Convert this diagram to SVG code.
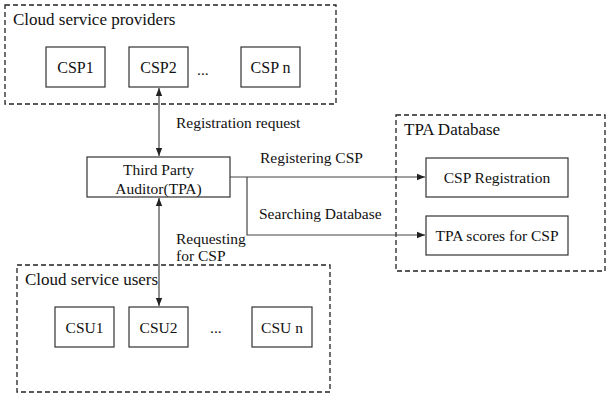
<svg xmlns="http://www.w3.org/2000/svg" width="606" height="394" viewBox="0 0 606 394">
<defs>
<marker id="ah" viewBox="0 0 10 10" refX="10" refY="5" markerWidth="8" markerHeight="8" markerUnits="userSpaceOnUse" orient="auto-start-reverse">
<path d="M0,1 L10,5 L0,9 Z" fill="#222"/>
</marker>
</defs>
<style>
text{font-family:'Liberation Serif','Times New Roman','DejaVu Serif',serif;fill:#111;font-size:15.5px}
.t{font-size:17px}
.n{font-size:16px}
.box{fill:#fff;stroke:#333;stroke-width:1.2}
.grp{fill:none;stroke:#222;stroke-width:1.3;stroke-dasharray:5,3}
.ln{fill:none;stroke:#444;stroke-width:1.2}
</style>
<rect width="606" height="394" fill="#fff"/>
<g font-family="Liberation Serif, Times New Roman, serif">
<g id="providers">
<rect class="grp" x="5" y="5" width="331" height="99"/>
<text class="t" x="13" y="25">Cloud service providers</text>
</g>
<g id="users">
<rect class="grp" x="17" y="265" width="313" height="127"/>
<text class="t" x="25" y="285">Cloud service users</text>
</g>
<g id="tpadb">
<rect class="grp" x="396" y="115" width="209" height="156"/>
<text class="t" x="404" y="135">TPA Database</text>
</g>
<g id="connectors">
<line class="ln" x1="159" y1="88" x2="159" y2="156" marker-start="url(#ah)" marker-end="url(#ah)"/>
<line class="ln" x1="159" y1="198" x2="159" y2="306" marker-start="url(#ah)" marker-end="url(#ah)"/>
<line class="ln" x1="230" y1="177" x2="425" y2="177" marker-end="url(#ah)"/>
<polyline class="ln" points="247,177 247,235 425,235" marker-end="url(#ah)"/>
<text x="176" y="128">Registration request</text>
<text x="260" y="163">Registering CSP</text>
<text x="259" y="219">Searching Database</text>
<text x="176" y="244">Requesting</text>
<text x="176" y="261">for CSP</text>
</g>
<g id="csp1"><rect class="box" x="46" y="47" width="59" height="40"/><text class="n" x="75.5" y="72.5" text-anchor="middle">CSP1</text></g>
<g id="csp2"><rect class="box" x="129" y="47" width="59" height="40"/><text class="n" x="158.5" y="72.5" text-anchor="middle">CSP2</text></g>
<text x="197" y="75">...</text>
<g id="cspn"><rect class="box" x="241" y="47" width="59" height="40"/><text class="n" x="270.5" y="72.5" text-anchor="middle">CSP n</text></g>
<g id="tpa"><rect class="box" x="87" y="157" width="143" height="40"/>
<text x="158.5" y="175" text-anchor="middle">Third Party</text>
<text x="158.5" y="194" text-anchor="middle">Auditor(TPA)</text></g>
<g id="cspreg"><rect class="box" x="426" y="158" width="142" height="39"/><text x="497" y="183" text-anchor="middle">CSP Registration</text></g>
<g id="tpascores"><rect class="box" x="426" y="216" width="142" height="39"/><text x="497" y="241" text-anchor="middle">TPA scores for CSP</text></g>
<g id="csu1"><rect class="box" x="55" y="307" width="59" height="40"/><text x="84.5" y="333" text-anchor="middle">CSU1</text></g>
<g id="csu2"><rect class="box" x="129" y="307" width="59" height="40"/><text x="158.5" y="333" text-anchor="middle">CSU2</text></g>
<text x="210" y="333">...</text>
<g id="csun"><rect class="box" x="252" y="307" width="60" height="40"/><text x="282" y="333" text-anchor="middle">CSU n</text></g>
</g>
</svg>
